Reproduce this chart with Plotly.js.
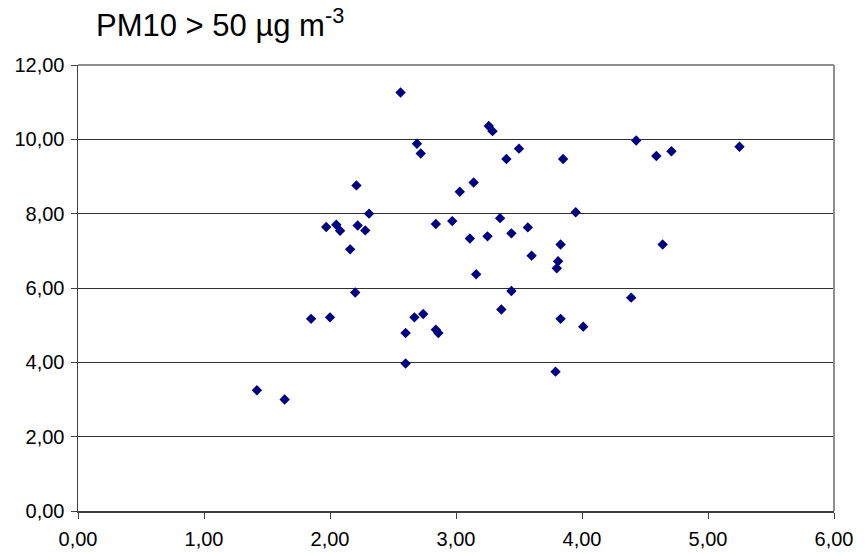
<!DOCTYPE html>
<html>
<head>
<meta charset="utf-8">
<script src="https://cdn.plot.ly/plotly-3.0.1.min.js"></script>
<style>html,body{margin:0;padding:0;background:#fff;}#chart{width:867px;height:555px;}</style>
</head>
<body>
<div id="chart"></div>
<script>
const titleText = 'PM10 > 50 µg m<sup>-3</sup>';
const xValues = [2.56, 2.69, 2.72, 2.21, 3.03, 2.31, 1.97, 2.05, 2.08, 2.22, 2.28, 2.16, 2.84, 2.97, 2.20,
  3.26, 3.29, 3.50, 3.40, 3.85, 4.43, 4.59, 4.71, 5.25, 3.14, 3.95, 3.35, 3.57, 3.11, 3.25, 3.44,
  3.83, 4.64, 3.60, 3.81, 3.80, 3.16, 3.44, 4.39, 1.42, 1.64, 1.85, 2.00, 2.60, 2.67, 2.74, 2.84,
  2.86, 2.60, 3.36, 3.83, 4.01, 3.79];
const yValues = [11.26, 9.88, 9.62, 8.76, 8.59, 8.00, 7.64, 7.70, 7.54, 7.68, 7.55, 7.04, 7.72, 7.80, 5.88,
  10.36, 10.22, 9.75, 9.47, 9.47, 9.97, 9.55, 9.68, 9.80, 8.84, 8.04, 7.88, 7.63, 7.33, 7.39, 7.47,
  7.17, 7.17, 6.87, 6.72, 6.53, 6.37, 5.92, 5.74, 3.25, 3.00, 5.17, 5.21, 4.79, 5.21, 5.30, 4.88,
  4.79, 3.97, 5.42, 5.17, 4.96, 3.75];
const xTicks = [0, 1, 2, 3, 4, 5, 6];
const yTicks = [0, 2, 4, 6, 8, 10, 12];

const trace = {
  x: xValues, y: yValues, type: 'scatter', mode: 'markers',
  marker: {symbol: 'diamond', size: 8, color: '#000080', line: {width: 0}},
  hoverinfo: 'x+y'
};
const font = {family: 'Arial, "Liberation Sans", sans-serif', color: '#000'};
const layout = {
  width: 867, height: 555,
  margin: {l: 77.5, r: 32.7, t: 64.5, b: 44.3, pad: 0},
  paper_bgcolor: '#fff', plot_bgcolor: '#fff',
  separators: ',.',
  showlegend: false,
  font: font,
  title: {text: titleText, font: {family: font.family, size: 31, color: '#000'},
    x: 96/867, xanchor: 'left', xref: 'container', y: 1 - 25/555, yanchor: 'middle', yref: 'container'},
  xaxis: {range: [0, 6], tickvals: xTicks, tickformat: '.2f', showgrid: false, zeroline: false,
    showline: true, linecolor: '#404040', linewidth: 1.5, ticks: 'outside', ticklen: 6, tickcolor: '#404040',
    ticklabelstandoff: 3,
    tickfont: {family: font.family, size: 20, color: '#000'}, fixedrange: true},
  yaxis: {range: [0, 12], tickvals: yTicks, tickformat: '.2f', showgrid: true, gridcolor: '#303030', gridwidth: 1,
    zeroline: false, showline: true, linecolor: '#404040', linewidth: 1.5, ticks: 'outside', ticklen: 6,
    ticklabelstandoff: 2,
    tickcolor: '#404040', tickfont: {family: font.family, size: 20, color: '#000'}, fixedrange: true},
  shapes: [
    {type: 'line', xref: 'paper', yref: 'paper', x0: 0, x1: 1, y0: 1, y1: 1, line: {color: '#909090', width: 2}},
    {type: 'line', xref: 'paper', yref: 'paper', x0: 1, x1: 1, y0: 0, y1: 1, line: {color: '#909090', width: 2}}
  ]
};
Plotly.newPlot('chart', [trace], layout, {displayModeBar: false, staticPlot: true});
</script>
</body>
</html>
